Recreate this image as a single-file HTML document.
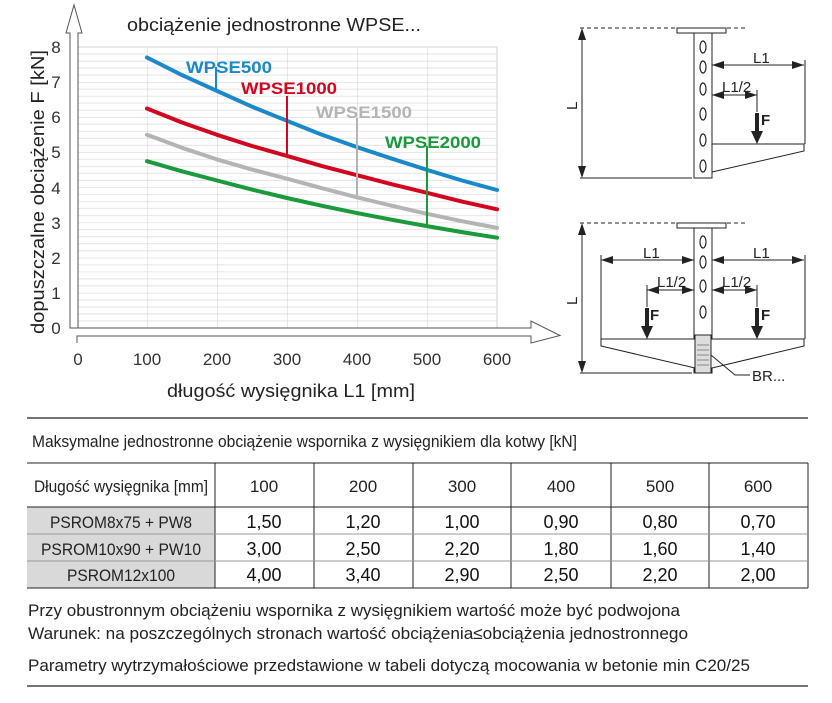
<!DOCTYPE html>
<html><head><meta charset="utf-8"><style>
html,body{margin:0;padding:0;background:#fff}
svg{display:block}
text{font-family:"Liberation Sans",sans-serif}
</style></head><body>
<svg width="832" height="703" viewBox="0 0 832 703" xmlns="http://www.w3.org/2000/svg">
<defs>
<pattern id="g" patternUnits="userSpaceOnUse" x="7" y="11.875" width="70" height="35.125">
<path d="M0 7.025H70M0 14.05H70M0 21.075H70M0 28.1H70" stroke="#e4e4e4" stroke-width="1"/>
<path d="M0 0H70M0 0V35.125" stroke="#d0d0d0" stroke-width="1"/>
</pattern>
</defs>
<rect x="77" y="47" width="420" height="281" fill="url(#g)"/>
<path d="M497 47V328M77 47H497" stroke="#d0d0d0"/>
<!-- axes arrows -->
<path d="M70 328V33H66L74 5L82 33H78V328Z" fill="#fff" stroke="#555" stroke-width="1"/>
<path d="M70 328H531V321L560 335.5L531 343V336H77V343" fill="#fff" stroke="#555" stroke-width="1"/>
<!-- ticks -->
<g font-size="17" fill="#333" text-anchor="middle">
<text x="56" y="334">0</text><text x="56" y="299">1</text><text x="56" y="264">2</text><text x="56" y="229">3</text><text x="56" y="194">4</text><text x="56" y="158">5</text><text x="56" y="123">6</text><text x="56" y="88">7</text><text x="56" y="53">8</text>
<text x="78" y="365">0</text><text x="147" y="365">100</text><text x="217" y="365">200</text><text x="287" y="365">300</text><text x="357" y="365">400</text><text x="427" y="365">500</text><text x="497" y="365">600</text>
</g>
<text x="127" y="31" font-size="18" fill="#222" textLength="294" lengthAdjust="spacingAndGlyphs">obciążenie jednostronne WPSE...</text>
<text transform="translate(44,334) rotate(-90)" font-size="18" fill="#222" textLength="284" lengthAdjust="spacingAndGlyphs">dopuszczalne obciążenie F [kN]</text>
<text x="167" y="397" font-size="18" fill="#222" textLength="248" lengthAdjust="spacingAndGlyphs">długość wysięgnika L1 [mm]</text>
<!-- curves -->
<g fill="none" stroke-width="4" stroke-linecap="round" stroke-linejoin="round">
<polyline stroke="#1a88c9" points="147,57.5 182,75.1 217,90.9 252,106.7 287,120.8 322,134.8 357,147.1 392,158.7 427,169.9 462,180.5 497,190"/>
<polyline stroke="#d2071f" points="147,108.5 182,122.5 217,134.8 252,146 287,155.9 322,166.1 357,175.2 392,184.3 427,192.8 462,201.6 497,209.3"/>
<polyline stroke="#b4b4b4" points="147,134.8 182,147.8 217,159.4 252,169.6 287,178.7 322,188.2 357,197.3 392,205.8 427,213.8 462,221.2 497,227.9"/>
<polyline stroke="#1a9a3c" points="147,161.2 182,171.3 217,180.5 252,189.6 287,198 322,205.8 357,213.1 392,219.8 427,226.1 462,232.1 497,237.7"/>
</g>
<g stroke-width="2">
<line x1="216" y1="67" x2="216" y2="90" stroke="#1a88c9"/>
<line x1="287" y1="96" x2="287" y2="155" stroke="#d2071f"/>
<line x1="357" y1="118" x2="357" y2="197" stroke="#b4b4b4"/>
<line x1="427" y1="146" x2="427" y2="226" stroke="#1a9a3c"/>
</g>
<g font-size="17" font-weight="bold">
<text x="186" y="73" fill="#1a88c9" textLength="86" lengthAdjust="spacingAndGlyphs">WPSE500</text>
<text x="241" y="94" fill="#d2071f" textLength="96" lengthAdjust="spacingAndGlyphs">WPSE1000</text>
<text x="316" y="118" fill="#b4b4b4" textLength="96" lengthAdjust="spacingAndGlyphs">WPSE1500</text>
<text x="385" y="148" fill="#1a9a3c" textLength="96" lengthAdjust="spacingAndGlyphs">WPSE2000</text>
</g>
<!-- diagrams -->
<g stroke="#222" stroke-width="1" fill="none">
<path d="M580 28H745" stroke-dasharray="4,3"/>
<rect x="677" y="28" width="49" height="5" fill="#fff"/>
<rect x="694" y="33" width="18" height="145" fill="#fff"/>
<path d="M582 30V176M580 178H692"/>
<path d="M712 144H804V151L712 172Z" fill="#fff"/>
<path d="M712 65H804M805 60V144M712 95H757M757 90V112"/>
<rect x="677" y="223" width="49" height="5" fill="#fff"/>
<path d="M580 223H745" stroke-dasharray="4,3"/>
<rect x="694" y="228" width="18" height="145" fill="#fff"/>
<path d="M582 225V371M580 373H692"/>
<path d="M601 339H804V346L712 368L695 368L601 346Z" fill="#fff"/>
<path d="M601 260H694M712 260H804M601 255V339M805 255V339M647 290H694M712 290H757M647 285V307M757 285V307"/>
<path d="M711 355L735 375H750"/>
</g>
<g fill="none" stroke="#222" stroke-width="1.2">
<ellipse cx="703" cy="47" rx="3" ry="6"/><ellipse cx="703" cy="67" rx="3" ry="6"/><ellipse cx="703" cy="89" rx="3" ry="6"/><ellipse cx="703" cy="114" rx="3" ry="6"/><ellipse cx="703" cy="140" rx="3" ry="6"/><ellipse cx="703" cy="166" rx="3" ry="6"/>
<ellipse cx="703" cy="242" rx="3" ry="6"/><ellipse cx="703" cy="262" rx="3" ry="6"/><ellipse cx="703" cy="286" rx="3" ry="6"/><ellipse cx="703" cy="312" rx="3" ry="6"/>
</g>
<rect x="695" y="335" width="16" height="38" fill="#ddd" stroke="#222"/>
<g stroke="#888"><path d="M697 345H709M697 350H709M697 355H709M697 360H709M697 365H709"/></g>
<g fill="#222">
<path d="M582 28L578 40H586ZM582 178L578 166H586Z"/>
<path d="M582 223L578 235H586ZM582 373L578 361H586Z"/>
<path d="M712 65L724 61V69ZM804 65L792 61V69ZM712 95L724 91V99ZM757 95L745 91V99Z"/>
<path d="M601 260L613 256V264ZM694 260L682 256V264ZM712 260L724 256V264ZM804 260L792 256V264Z"/>
<path d="M647 290L659 286V294ZM694 290L682 286V294ZM712 290L724 286V294ZM757 290L745 286V294Z"/>
<rect x="755" y="113" width="4" height="20"/><path d="M751 131H763L757 144Z"/>
<rect x="645" y="308" width="4" height="20"/><path d="M641 326H653L647 339Z"/>
<rect x="755" y="308" width="4" height="20"/><path d="M751 326H763L757 339Z"/>
</g>
<g font-size="15" fill="#222">
<text x="753" y="63">L1</text><text x="722" y="92">L1/2</text><text x="761" y="125" font-weight="bold">F</text>
<text transform="translate(577,110) rotate(-90)">L</text>
<text x="643" y="258">L1</text><text x="753" y="258">L1</text>
<text x="657" y="287">L1/2</text><text x="722" y="287">L1/2</text>
<text x="650" y="320" font-weight="bold">F</text><text x="761" y="320" font-weight="bold">F</text>
<text transform="translate(577,305) rotate(-90)">L</text>
<text x="752" y="381">BR...</text>
</g>
<!-- table section -->
<line x1="27" y1="418" x2="808" y2="418" stroke="#222" stroke-width="1.2"/>
<text x="32" y="447" font-size="17" fill="#222" textLength="545" lengthAdjust="spacingAndGlyphs">Maksymalne jednostronne obciążenie wspornika z wysięgnikiem dla kotwy [kN]</text>
<rect x="27" y="507" width="188" height="81" fill="#d9d9d9"/>
<g stroke="#222" stroke-width="1" fill="none">
<path d="M27 463H808M27 507H808M27 588H808"/>
<path d="M215 463V588M314 463V588M413 463V588M511 463V588M611 463V588M709 463V588M808 463V588"/>
</g>
<g stroke="#999"><path d="M27 534H808M27 561H808"/></g>
<g font-size="17" fill="#222" text-anchor="middle">
<text x="121" y="492" textLength="174" lengthAdjust="spacingAndGlyphs">Długość wysięgnika [mm]</text>
<text x="264" y="492">100</text><text x="363" y="492">200</text><text x="462" y="492">300</text><text x="561" y="492">400</text><text x="660" y="492">500</text><text x="758" y="492">600</text>
<text x="121" y="528" textLength="142" lengthAdjust="spacingAndGlyphs">PSROM8x75 + PW8</text>
<text x="121" y="555" textLength="160" lengthAdjust="spacingAndGlyphs">PSROM10x90 + PW10</text>
<text x="121" y="581" textLength="108" lengthAdjust="spacingAndGlyphs">PSROM12x100</text>
</g>
<g font-size="18" fill="#111" text-anchor="middle">
<text x="264" y="528">1,50</text><text x="363" y="528">1,20</text><text x="462" y="528">1,00</text><text x="561" y="528">0,90</text><text x="660" y="528">0,80</text><text x="758" y="528">0,70</text>
<text x="264" y="555">3,00</text><text x="363" y="555">2,50</text><text x="462" y="555">2,20</text><text x="561" y="555">1,80</text><text x="660" y="555">1,60</text><text x="758" y="555">1,40</text>
<text x="264" y="581">4,00</text><text x="363" y="581">3,40</text><text x="462" y="581">2,90</text><text x="561" y="581">2,50</text><text x="660" y="581">2,20</text><text x="758" y="581">2,00</text>
</g>
<g font-size="17" fill="#222">
<text x="28" y="616" textLength="652" lengthAdjust="spacingAndGlyphs">Przy obustronnym obciążeniu wspornika z wysięgnikiem wartość może być podwojona</text>
<text x="28" y="639" textLength="660" lengthAdjust="spacingAndGlyphs">Warunek: na poszczególnych stronach wartość obciążenia≤obciążenia jednostronnego</text>
<text x="28" y="671" textLength="722" lengthAdjust="spacingAndGlyphs">Parametry wytrzymałościowe przedstawione w tabeli dotyczą mocowania w betonie min C20/25</text>
</g>
<line x1="27" y1="686" x2="808" y2="686" stroke="#222" stroke-width="1.2"/>
</svg>
</body></html>
